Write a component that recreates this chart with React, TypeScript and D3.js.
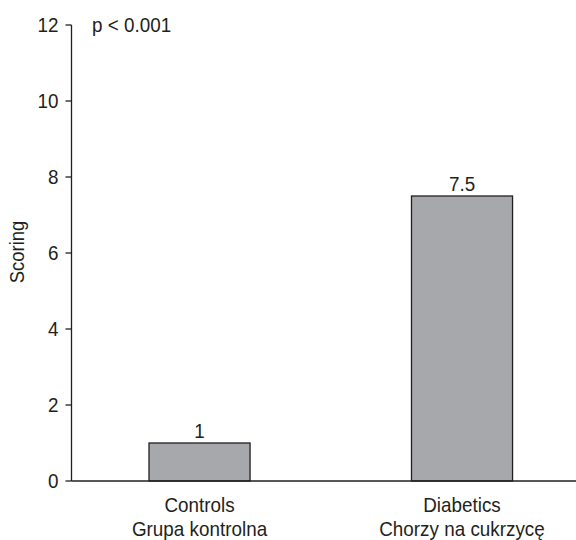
import React from "react";
import * as d3 from "d3";

const categories = ["Controls", "Diabetics"];
const subLabels = ["Grupa kontrolna", "Chorzy na cukrzycę"];
const values = [1, 7.5];
const valueLabels = ["1", "7.5"];
const yTicks = [0, 2, 4, 6, 8, 10, 12];
const annotation = "p < 0.001";
const yTitle = "Scoring";

const W = 576;
const H = 540;
const FONT = "'Liberation Sans', Arial, sans-serif";
const TEXT = "#231f20";
const SX = 0.92;
const FS = 20.5;

function T(props: {
  x: number;
  y: number;
  anchor?: "start" | "middle" | "end";
  dy?: string;
  rotate?: number;
  size?: number;
  children: React.ReactNode;
}) {
  const { x, y, anchor = "start", dy, rotate = 0, size = FS, children } = props;
  return (
    <g transform={`translate(${x},${y}) rotate(${rotate}) scale(${SX},1)`}>
      <text x={0} y={0} dy={dy} textAnchor={anchor} fontSize={size} fill={TEXT}>
        {children}
      </text>
    </g>
  );
}

export default function App() {
  const axisX = 71.5;
  const y = d3.scaleLinear().domain([0, 12]).range([481, 25]);
  const x = d3
    .scaleBand<string>()
    .domain(categories)
    .range([70.25, 591.3])
    .paddingInner(0.615)
    .paddingOuter(0.3);

  return (
    <svg
      width={W}
      height={H}
      style={{ position: "absolute", left: 0, top: 0, background: "#fff" }}
      fontFamily={FONT}
    >
      {categories.map((c, i) => (
        <rect
          key={c}
          x={x(c)!}
          y={y(values[i])}
          width={x.bandwidth()}
          height={y(0) - y(values[i])}
          fill="#a7a8ab"
          stroke="#231f20"
          strokeWidth={1.3}
        />
      ))}
      {categories.map((c, i) => (
        <T key={c + "v"} x={x(c)! + x.bandwidth() / 2} y={y(values[i]) - 5} anchor="middle">
          {valueLabels[i]}
        </T>
      ))}
      <line x1={axisX} x2={axisX} y1={y(12)} y2={y(0)} stroke={TEXT} strokeWidth={1.3} />
      {yTicks.map((t) => (
        <g key={t}>
          <line x1={axisX - 6} x2={axisX} y1={y(t)} y2={y(t)} stroke={TEXT} strokeWidth={1.3} />
          <T x={axisX - 13} y={y(t)} dy="0.35em" anchor="end">
            {t}
          </T>
        </g>
      ))}
      <line x1={axisX} x2={W} y1={y(0)} y2={y(0)} stroke={TEXT} strokeWidth={1.3} />
      {categories.map((c, i) => (
        <g key={c + "l"}>
          <T x={x(c)! + x.bandwidth() / 2} y={512} anchor="middle">
            {c}
          </T>
          <T x={x(c)! + x.bandwidth() / 2} y={536} anchor="middle">
            {subLabels[i]}
          </T>
        </g>
      ))}
      <T x={24} y={252} rotate={-90} anchor="middle" size={20}>
        {yTitle}
      </T>
      <T x={92} y={y(12)} dy="0.35em">
        {annotation}
      </T>
    </svg>
  );
}
